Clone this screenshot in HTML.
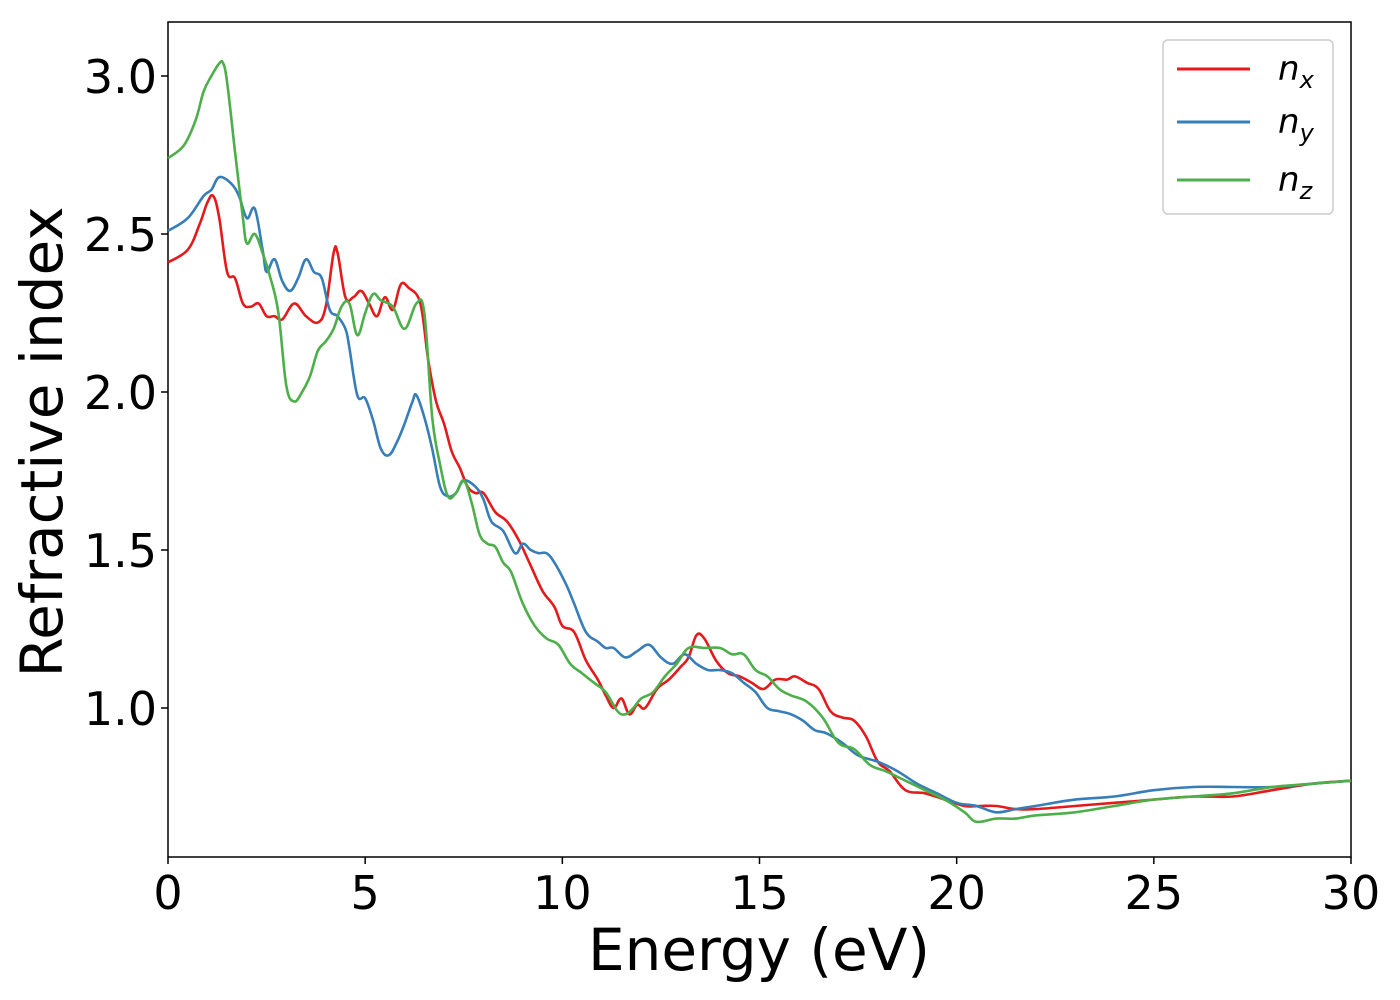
<!DOCTYPE html>
<html><head><meta charset="utf-8"><style>
body{margin:0;background:#fff}
svg{display:block;font-family:"DejaVu Sans","Liberation Sans",sans-serif}
</style></head><body>
<svg id="chart" width="1400" height="1000">
<rect x="168" y="22" width="1183" height="835" fill="#fff" stroke="#000" stroke-width="1.5"/>
<g id="series"></g>
<g id="xticks"></g>
<g id="yticks"></g>
<text x="759" y="970" font-size="58" text-anchor="middle">Energy (eV)</text>
<text transform="translate(62,442) rotate(-90)" font-size="58" text-anchor="middle">Refractive index</text>
<g>
<rect x="1163" y="40" width="170" height="174" rx="5" fill="#fff" stroke="#ccc" stroke-width="1.5"/>
<g><line x1="1177" y1="69" x2="1250" y2="69" stroke="#e41a1c" stroke-width="3"/><text x="1278" y="80" font-size="34" font-style="italic">n<tspan font-size="24" dy="8">x</tspan></text></g>
<g><line x1="1177" y1="122" x2="1250" y2="122" stroke="#377eb8" stroke-width="3"/><text x="1278" y="133" font-size="34" font-style="italic">n<tspan font-size="24" dy="8">y</tspan></text></g>
<g><line x1="1177" y1="180" x2="1250" y2="180" stroke="#4daf4a" stroke-width="3"/><text x="1278" y="191" font-size="34" font-style="italic">n<tspan font-size="24" dy="8">z</tspan></text></g>
</g>
</svg>
<script>
const xTicks=[0,5,10,15,20,25,30];
const yTicks=[1.0,1.5,2.0,2.5,3.0];
const nxE=[0,0.5,0.8,1.0,1.15,1.3,1.5,1.7,1.9,2.1,2.3,2.5,2.7,2.9,3.2,3.5,3.8,4.0,4.2,4.3,4.5,4.7,4.9,5.1,5.3,5.5,5.7,5.9,6.1,6.4,6.6,6.8,7.0,7.2,7.4,7.6,7.8,8.0,8.3,8.6,8.9,9.2,9.5,9.8,10.0,10.3,10.6,10.9,11.1,11.3,11.5,11.7,11.9,12.1,12.4,12.7,13.0,13.2,13.4,13.6,13.9,14.2,14.5,14.8,15.1,15.4,15.7,15.9,16.2,16.5,16.8,17.1,17.4,17.7,18.0,18.3,18.7,19.2,19.7,20.2,20.6,21.0,21.5,22,23,24,25,26,27,28,29,30];
const nxV=[2.41,2.45,2.53,2.6,2.62,2.55,2.38,2.36,2.28,2.27,2.28,2.24,2.24,2.23,2.28,2.24,2.22,2.27,2.44,2.44,2.3,2.3,2.32,2.28,2.24,2.3,2.26,2.34,2.33,2.28,2.1,1.97,1.9,1.81,1.76,1.7,1.68,1.68,1.62,1.59,1.53,1.45,1.37,1.32,1.26,1.24,1.15,1.09,1.04,1.0,1.03,0.98,1.01,1.0,1.06,1.09,1.13,1.16,1.23,1.22,1.15,1.11,1.1,1.08,1.06,1.09,1.09,1.1,1.08,1.06,0.99,0.97,0.96,0.91,0.83,0.8,0.74,0.73,0.71,0.69,0.69,0.69,0.68,0.68,0.69,0.7,0.71,0.72,0.72,0.74,0.76,0.77];
const nyE=[0,0.5,0.9,1.1,1.3,1.6,1.8,2.0,2.2,2.4,2.5,2.7,2.9,3.1,3.3,3.5,3.7,3.9,4.1,4.3,4.5,4.6,4.8,5.0,5.2,5.4,5.6,5.8,6.0,6.2,6.3,6.5,6.7,6.9,7.1,7.3,7.5,7.8,8.0,8.2,8.5,8.8,9.0,9.2,9.4,9.6,9.8,10.1,10.3,10.6,10.9,11.1,11.3,11.6,11.9,12.2,12.5,12.8,13.1,13.4,13.7,14.0,14.3,14.6,14.9,15.2,15.5,15.8,16.1,16.4,16.7,17.1,17.5,18,18.5,19,19.5,20,20.5,21,21.5,22,23,24,25,26,27,28,29,30];
const nyV=[2.51,2.55,2.62,2.64,2.68,2.66,2.62,2.55,2.58,2.45,2.38,2.42,2.35,2.32,2.36,2.42,2.38,2.36,2.26,2.24,2.2,2.14,1.99,1.98,1.91,1.82,1.8,1.84,1.9,1.97,1.99,1.92,1.82,1.7,1.67,1.68,1.72,1.7,1.66,1.59,1.56,1.49,1.52,1.5,1.49,1.49,1.46,1.39,1.33,1.24,1.21,1.19,1.19,1.16,1.18,1.2,1.16,1.14,1.17,1.14,1.12,1.12,1.11,1.08,1.05,1.0,0.99,0.98,0.96,0.93,0.92,0.89,0.85,0.83,0.8,0.76,0.73,0.7,0.69,0.67,0.68,0.69,0.71,0.72,0.74,0.75,0.75,0.75,0.76,0.77];
const nzE=[0,0.4,0.7,0.9,1.1,1.3,1.4,1.5,1.7,1.9,2.0,2.2,2.4,2.6,2.8,3.0,3.2,3.4,3.6,3.8,4.0,4.2,4.4,4.6,4.8,5.0,5.2,5.4,5.7,6.0,6.3,6.5,6.7,6.9,7.1,7.3,7.5,7.7,7.9,8.1,8.3,8.5,8.7,9.0,9.3,9.6,9.9,10.2,10.5,10.8,11.1,11.4,11.6,11.8,12.0,12.3,12.6,12.9,13.2,13.6,14.0,14.3,14.6,14.9,15.2,15.5,15.8,16.2,16.6,17.0,17.4,17.8,18.2,18.7,19.2,19.7,20.2,20.5,21,21.5,22,23,24,25,26,27,28,29,30];
const nzV=[2.74,2.78,2.86,2.95,3.0,3.04,3.04,2.98,2.76,2.55,2.47,2.5,2.44,2.36,2.25,2.02,1.97,2.0,2.05,2.13,2.16,2.2,2.27,2.28,2.18,2.25,2.31,2.29,2.27,2.2,2.28,2.25,1.92,1.77,1.67,1.68,1.72,1.65,1.55,1.52,1.51,1.46,1.43,1.33,1.26,1.22,1.2,1.14,1.11,1.08,1.05,0.99,0.98,1.0,1.03,1.05,1.1,1.14,1.19,1.19,1.19,1.17,1.17,1.12,1.1,1.06,1.04,1.02,0.97,0.89,0.87,0.82,0.8,0.77,0.74,0.71,0.67,0.64,0.65,0.65,0.66,0.67,0.69,0.71,0.72,0.73,0.75,0.76,0.77];
const NS="http://www.w3.org/2000/svg";
function xs(v){return 168+v*(1183/30);}
function ys(v){return 708-(v-1.0)*316;}
function mk(t,a){const e=document.createElementNS(NS,t);for(const k in a)e.setAttribute(k,a[k]);return e;}
const sg=document.getElementById('series');
function smoothPath(P){
  let d='M'+P[0][0].toFixed(1)+','+P[0][1].toFixed(1);
  for(let i=0;i<P.length-1;i++){
    const p0=P[Math.max(0,i-1)],p1=P[i],p2=P[i+1],p3=P[Math.min(P.length-1,i+2)];
    const t=0.18;
    const c1=[p1[0]+(p2[0]-p0[0])*t,p1[1]+(p2[1]-p0[1])*t];
    const c2=[p2[0]-(p3[0]-p1[0])*t,p2[1]-(p3[1]-p1[1])*t];
    d+=' C'+c1[0].toFixed(1)+','+c1[1].toFixed(1)+' '+c2[0].toFixed(1)+','+c2[1].toFixed(1)+' '+p2[0].toFixed(1)+','+p2[1].toFixed(1);
  }
  return d;
}
function drawSeries(E,V,color,name){
  const P=E.map((e,i)=>[xs(e),ys(V[i])]);
  const p=mk('path',{d:smoothPath(P),fill:'none',stroke:color,'stroke-width':2.6,'stroke-linejoin':'round'});
  
  
  sg.appendChild(p);
}
drawSeries(nxE,nxV,'#e41a1c','series-nx');
drawSeries(nyE,nyV,'#377eb8','series-ny');
drawSeries(nzE,nzV,'#4daf4a','series-nz');
const xg=document.getElementById('xticks');
xTicks.forEach(t=>{
  const l=mk('line',{x1:xs(t),x2:xs(t),y1:857,y2:864,stroke:'#000','stroke-width':1.5});
  
  
  xg.appendChild(l);
  const tx=mk('text',{x:xs(t),y:909,'font-size':46,'text-anchor':'middle'});
  
  
  tx.textContent=t;xg.appendChild(tx);
});
const yg=document.getElementById('yticks');
yTicks.forEach(t=>{
  const l=mk('line',{x1:161,x2:168,y1:ys(t),y2:ys(t),stroke:'#000','stroke-width':1.5});
  
  
  yg.appendChild(l);
  const tx=mk('text',{x:157,y:ys(t)+17,'font-size':46,'text-anchor':'end'});
  
  
  tx.textContent=t.toFixed(1);yg.appendChild(tx);
});
</script>
</body></html>
